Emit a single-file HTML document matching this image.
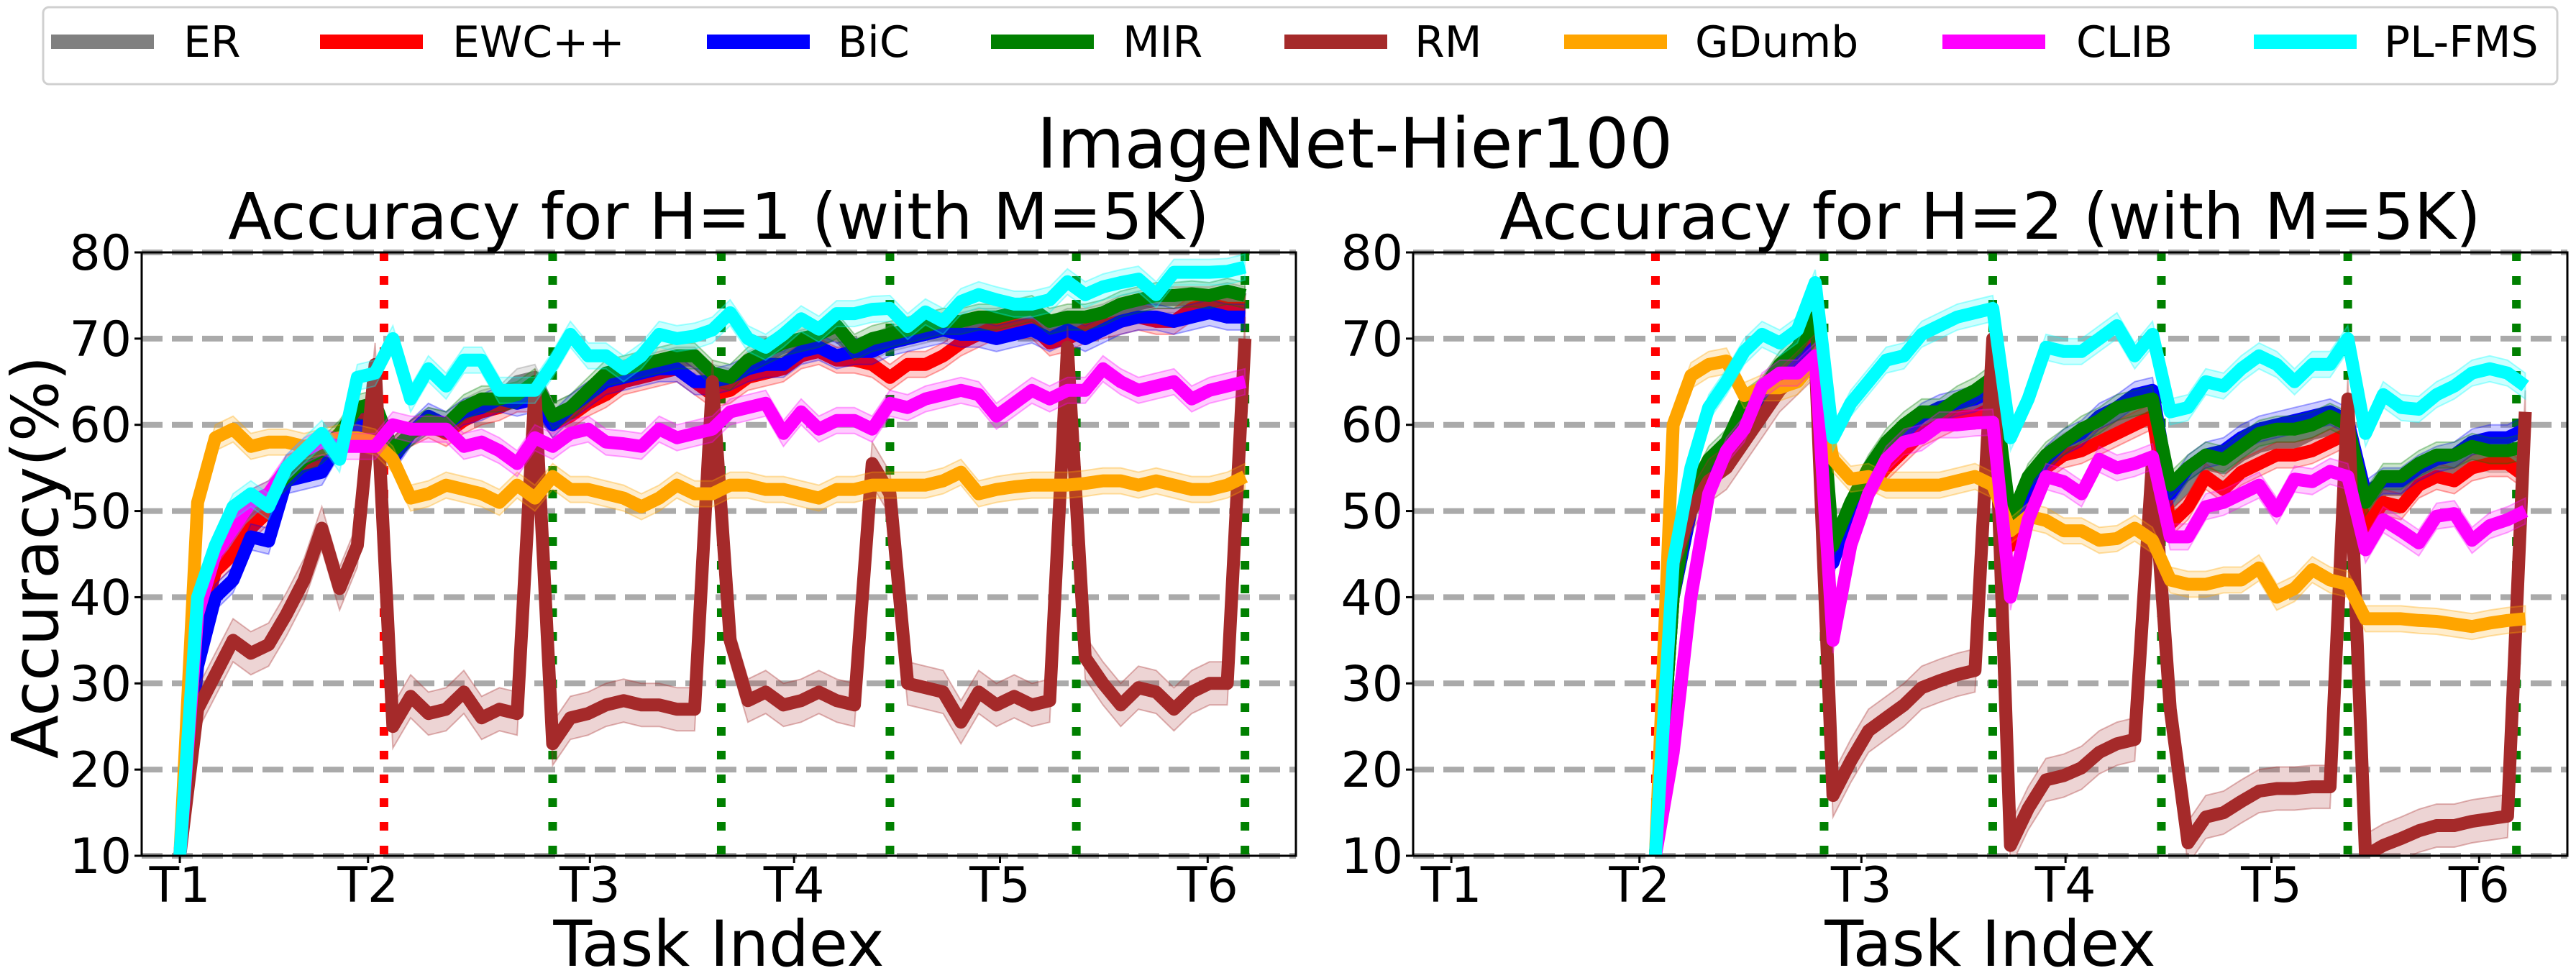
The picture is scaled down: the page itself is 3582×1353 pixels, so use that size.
<!DOCTYPE html>
<html><head><meta charset="utf-8"><style>
html,body{margin:0;padding:0;background:#fff;}
svg{display:block;font-family:"DejaVu Sans","Liberation Sans",sans-serif;}
</style></head><body>
<svg id="fig" width="3582" height="1353" viewBox="0 0 3582 1353" xmlns="http://www.w3.org/2000/svg">
<rect x="0" y="0" width="3582" height="1353" fill="#fff"/>
<g id="legend"></g>
<text x="1884" y="233" font-size="96" text-anchor="middle">ImageNet-Hier100</text>
<g id="plots"></g>
</svg>
<script>
const names = ["ER","EWC++","BiC","MIR","RM","GDumb","CLIB","PL-FMS"];
const colors = ["#808080","#ff0000","#0000ff","#008000","#a52a2a","#ffa500","#ff00ff","#00ffff"];
const yTicks = [10,20,30,40,50,60,70,80];
const xTickPos = [0,10.6,23.1,34.6,46.2,57.9];
const xTickLabels = ["T1","T2","T3","T4","T5","T6"];
const redLine = [11.5];
const greenLines = [21,30.5,40,50.5,60];
const rightStart = 11.5;

const L_ER = [10,36,44,47,50,51,55,56,56.5,58.5,61,62,57,59,60.5,60,61.5,62.5,63,65,65.5,61,62,63.5,65,66,66.5,67,67.5,67.5,65.5,65,67,68,69,69.5,70,70.5,68.5,69,70,70.5,71,71.5,71.5,72,72,72.5,73,71,72,72,72.5,73.5,74,74.5,74.5,74.5,74.5,75,74.5];
const L_EWC = [10,35,43,45,48,50,55,55.5,56,58,60.5,61,57,59,60,59,60.5,61.5,62,63,63,60,61,62.5,63.5,65,65.5,66,66.5,65,63.5,64,65.5,66,66.5,68,68.5,67.5,67.5,67,65.5,67,67,68,69.5,70.5,71.5,71.5,71.5,69.5,70,71,71.5,72,72.5,72,72,73.5,74,73.5,73.5];
const L_BIC = [10,32,40,42,47,46.5,53.5,54,54.5,58,60,59.5,56,59,61,60,61.5,62,63,62.5,63,60,62,63.5,65,65.5,66,66.5,66.5,65,65,65.5,66.5,67,67,68.5,69,68,68.5,68.5,69.5,70,70.5,71,70.5,70.5,70,70.5,71,70,71,70,71,72,72.5,72.5,72,72.5,73,72.5,72.5];
const L_MIR = [10,38,45,49,51,52,54,56,57,59,62,62.5,57,59,60.5,60,62,63,63,63.5,65,61,62,64,66,66.5,67,67.5,68,68,66,65.5,67.5,68.5,69.5,70,70.5,71.5,69,70,70.5,71,71.5,72,72,72.5,72.5,73,73.5,72,72.5,72.5,73,74,74.5,75,75,75.2,75,75.5,75];
const L_RM = [10,27,31,35,33.5,34.5,38,42,48,41,46,67,25,28.5,26.5,27,29,26,27,26.5,64,23,26,26.5,27.5,28,27.5,27.5,27,27,65,35,28,29,27.5,28,29,28,27.5,55.5,52,30,29.5,29,25.5,29,27.5,28.5,27.5,28,69,33,30,27.5,29.5,29,27,29,30,30,70];
const L_GD = [10,51,58.5,59.5,57.5,58,58,57.5,58,58.5,58.5,58,56,51.5,52,53,52.5,52,51,53,51.5,54,52.5,52.5,52,51.5,50.5,51.5,53,52,52,53,53,52.5,52.5,52,51.5,52.5,52.5,53,53,53,53,53.5,54.5,52,52.5,52.8,53,53,53,53.2,53.5,53.5,53,53.5,53,52.5,52.5,53,54];
const L_CLIB = [10,38,45,48,51,52,55,57,58,57.5,57.5,57.5,60,59.5,59.5,59.5,57.5,58,57,55.5,58.5,57.5,59,59.5,58,57.8,57.5,59.5,58.5,59,59.5,61.5,62,62.5,59,61.5,59.5,60.5,60.5,59.5,62.5,62,63,63.5,64,63.5,61,62.5,64,63,64,64,66.5,65,64,64.5,65,63,64,64.5,65];
const L_PL = [10,40,46,50.5,52,50.5,55,57,59,56,65.5,66,70,63,66.5,64.5,67.5,67.5,64,64,64,67,70.5,68,68,66.5,68,70.5,70,70.3,71,73,70,69,70.5,72.3,71.1,72.9,72.9,73.4,73.5,71.4,73.1,72,74.3,75.1,74.5,74,74,74.5,76.6,75.1,76,76.5,76.9,75.1,77.7,77.7,77.7,77.8,78.3];

const R_ER = [10,40,51,55,57,61,63.5,66,68,71,45,50.5,54,57,59,60.5,61,62,62.5,63.5,48,53,56,57.5,58.5,59.5,60.5,61.5,62,51,53,55.5,55,56.5,57.5,58,58,59,59.5,59.5,50,52.5,52.5,54,55,55,56.5,56,56,56.5];
const R_EWC = [10,40,50,54,56,60,63,65,67,70,45,50,52.5,55,57,59,60,61,61,62,46,52,55,56.5,57,58,59,60,61,48.5,50.5,54,52.5,54.5,55.5,56.5,56.5,57,58,59,48,51,50.5,53,54,53.5,55,55.5,55.5,54];
const R_BIC = [10,40,50,55,57,61,63,65,67,69,44,50,54,57,59,61,62,62.5,63,64,48,53,56,58,59,61,62,63.5,64,52,55,56.5,57,58.5,59.5,60,60.5,61,61.5,60.5,52,53.5,53.5,55,56,56.5,58,58.5,58.5,59.5];
const R_MIR = [10,40,52,56,58,62.5,64,67,69,72.5,46,51,55,58,60,61.5,61.5,63,64,65.5,49,54,56.5,58,59.5,60.5,62,62.5,63,53,55,56.5,56,57.5,59,59.5,59.5,60,61,60,51,54,54,55.5,56.5,56.5,57.5,57,57,57.5];
const R_RM = [10,44,50,53.5,55,58,61,64,66,68,17,21,24.5,26,27.5,29.5,30.3,31,31.5,70,11.2,15.5,18.8,19.3,20.2,22,23,23.5,56,27,11.5,14.5,15,16.3,17.5,17.8,17.8,18,18,63,10,11.2,12,12.9,13.5,13.5,14,14.3,14.6,61.5];
const R_GD = [10,60,65.7,67,67.4,63.4,64.3,64.3,65,67.5,56,53.7,54,53,53,53,53,53.5,54,53,47.7,49.4,48.9,47.7,47.7,46.6,46.8,48,46.6,42,41.5,41.5,42,42,43.4,40,41,43.2,42,41.5,37.5,37.5,37.5,37.3,37.2,36.9,36.6,37,37.3,37.5];
const R_CLIB = [10,22,40,52,57,59.5,64.5,66,66,68,35,46,52,56,58,58.5,60,60,60.2,60.3,40,49,54,53.4,52,56,55,55.5,56.3,47,47,50.5,51,52,53,50,53.7,53.4,54.6,54,45.5,49,47.7,46.3,49.4,49.7,46.6,48.3,49,50];
const R_PL = [10,44,55,62,65,68.5,70.5,69.5,71,76.5,58.5,62.5,65,67.5,68,70.5,71.5,72.5,73,73.5,58.5,63,69,68.5,68.5,70,71.5,68,70.5,61.5,62,65,64.5,66.5,68,67,65,67,67,70,59,63.5,62,61.8,63.5,64.5,66,66.5,66,64.5];

const leftSeries = [L_ER,L_EWC,L_BIC,L_MIR,L_RM,L_GD,L_CLIB,L_PL];
const rightSeries = [R_ER,R_EWC,R_BIC,R_MIR,R_RM,R_GD,R_CLIB,R_PL];

const NS = "http://www.w3.org/2000/svg";
function mk(tag, attrs, parent){
  const e = document.createElementNS(NS, tag);
  for (const k in attrs) e.setAttribute(k, attrs[k]);
  if (parent) parent.appendChild(e);
  return e;
}
const fig = document.getElementById("fig");
const slug = s => s.toLowerCase().replace(/\+/g,"p").replace(/[^a-z0-9]+/g,"-");

// legend
const lg = document.getElementById("legend");
const frame = mk("rect",{x:60,y:10,width:3496,height:107,rx:8,fill:"#fff",stroke:"#d0d0d0","stroke-width":3},lg);


const lgLineX = [71,445,983,1378,1786,2175,2701,3134];
const lgTextX = [255,629,1165,1561,1967,2357,2887,3315];
names.forEach((n,i)=>{
  const g = mk("g",{},lg);
  
  
  mk("line",{x1:lgLineX[i],y1:58,x2:lgLineX[i]+143,y2:58,stroke:colors[i],"stroke-width":20},g);
  const t = mk("text",{x:lgTextX[i],y:79,"font-size":60},g);
  t.textContent = n;
});

const XMIN = -2.15, XMAX = 62.87, YMIN = 10, YMAX = 80;
const TOP = 351, BOT = 1190;
function makePlot(L, R, series, startX, title, key, showYLabel){
  const W = R - L;
  const sx = v => L + (v - XMIN) / (XMAX - XMIN) * W;
  const sy = v => BOT - (v - YMIN) / (YMAX - YMIN) * (BOT - TOP);
  const g = mk("g",{},document.getElementById("plots"));
  
  
  const clipId = "clip-"+key;
  const cp = mk("clipPath",{id:clipId},g);
  mk("rect",{x:L,y:TOP,width:W,height:BOT-TOP},cp);

  // grid
  const grid = mk("g",{},g);
  
  
  yTicks.forEach(v=>{
    mk("line",{x1:L,x2:R,y1:sy(v),y2:sy(v),stroke:"#aaaaaa","stroke-width":8,"stroke-dasharray":"29 13"},grid);
  });
  // task boundary lines
  const vl = mk("g",{},g);
  
  
  redLine.forEach(v=>{
    mk("line",{x1:sx(v),x2:sx(v),y1:TOP,y2:BOT,stroke:"#ff0000","stroke-width":12,"stroke-dasharray":"12 21"},vl);
  });
  greenLines.forEach(v=>{
    mk("line",{x1:sx(v),x2:sx(v),y1:TOP,y2:BOT,stroke:"#008000","stroke-width":12,"stroke-dasharray":"12 21"},vl);
  });

  // series
  const data = mk("g",{"clip-path":"url(#"+clipId+")"},g);
  series.forEach((arr,si)=>{
    const half = si===4 ? 2.5 : 1.5;
    const pts = arr.map((v,k)=>[sx(startX+k), v]);
    let up = pts.map(p=>p[0].toFixed(1)+","+sy(p[1]+half).toFixed(1));
    let dn = pts.slice().reverse().map(p=>p[0].toFixed(1)+","+sy(p[1]-half).toFixed(1));
    const band = mk("polygon",{points:up.concat(dn).join(" "),fill:colors[si],"fill-opacity":0.2,stroke:colors[si],"stroke-opacity":0.35,"stroke-width":2},data);
    
    
    const line = mk("polyline",{points:pts.map(p=>p[0].toFixed(1)+","+sy(p[1]).toFixed(1)).join(" "),fill:"none",stroke:colors[si],"stroke-width":18,"stroke-linejoin":"round"},data);
    
    
  });

  // spine
  const sp = mk("rect",{x:L,y:TOP,width:W,height:BOT-TOP,fill:"none",stroke:"#000","stroke-width":3},g);
  
  

  // y ticks
  const yt = mk("g",{},g);
  
  
  yTicks.forEach(v=>{
    mk("line",{x1:L-10,x2:L,y1:sy(v),y2:sy(v),stroke:"#000","stroke-width":3},yt);
    const t = mk("text",{x:L-14,y:sy(v)+24,"font-size":68,"text-anchor":"end"},yt);
    t.textContent = v;
  });
  // x ticks
  const xt = mk("g",{},g);
  
  
  xTickPos.forEach((v,i)=>{
    mk("line",{x1:sx(v),x2:sx(v),y1:BOT,y2:BOT+10,stroke:"#000","stroke-width":3},xt);
    const t = mk("text",{x:sx(v),y:1254,"font-size":68,"text-anchor":"middle"},xt);
    t.textContent = xTickLabels[i];
  });
  const tt = mk("text",{x:(L+R)/2,y:332,"font-size":89,"text-anchor":"middle"},g);
  tt.textContent = title;
  
  
  const xl = mk("text",{x:(L+R)/2,y:1343,"font-size":88,"text-anchor":"middle"},g);
  xl.textContent = "Task Index";
  
  
  if (showYLabel){
    const yl = mk("text",{x:0,y:0,"font-size":89,"text-anchor":"middle",transform:"translate(80,775) rotate(-90)"},g);
    yl.textContent = "Accuracy(%)";
    
    
  }
}
makePlot(197,1802,leftSeries,0,"Accuracy for H=1 (with M=5K)","h1",true);
makePlot(1965,3570,rightSeries,rightStart,"Accuracy for H=2 (with M=5K)","h2",false);
</script>
</body></html>
